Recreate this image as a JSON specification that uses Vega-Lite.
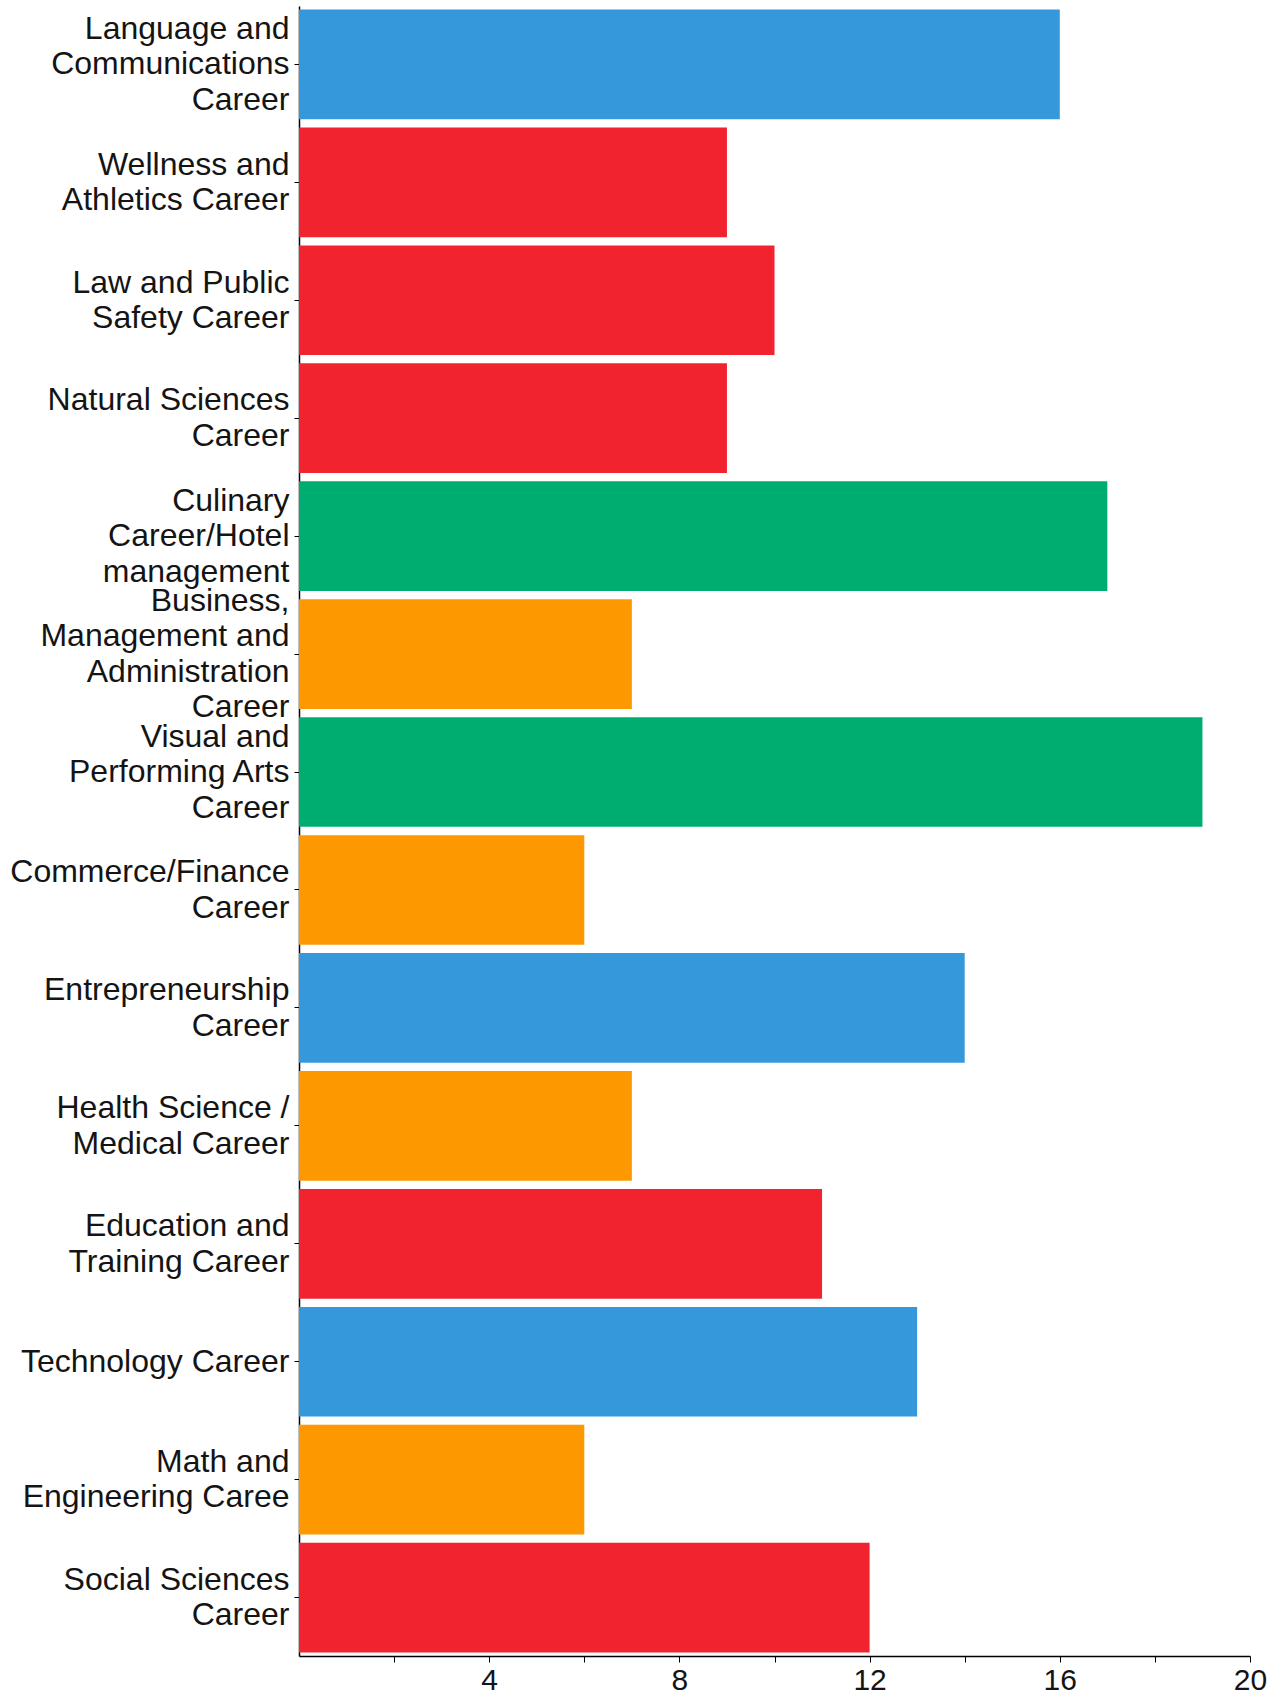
{
  "$schema": "https://vega.github.io/schema/vega-lite/v6.json",
  "width": 951,
  "height": 1650,
  "autosize": {"type": "none"},
  "padding": {"left": 299, "top": 6, "right": 24, "bottom": 38},
  "background": "white",
  "config": {"view": {"stroke": null}, "font": "Liberation Sans"},
  "data": {
    "values": [
      {"career": "Language and|Communications|Career", "count": 16},
      {"career": "Wellness and|Athletics Career", "count": 9},
      {"career": "Law and Public|Safety Career", "count": 10},
      {"career": "Natural Sciences|Career", "count": 9},
      {"career": "Culinary|Career/Hotel|management", "count": 17},
      {"career": "Business,|Management and|Administration|Career", "count": 7},
      {"career": "Visual and|Performing Arts|Career", "count": 19},
      {"career": "Commerce/Finance|Career", "count": 6},
      {"career": "Entrepreneurship|Career", "count": 14},
      {"career": "Health Science /|Medical Career", "count": 7},
      {"career": "Education and|Training Career", "count": 11},
      {"career": "Technology Career", "count": 13},
      {"career": "Math and|Engineering Caree", "count": 6},
      {"career": "Social Sciences|Career", "count": 12}
    ]
  },
  "mark": {"type": "bar"},
  "encoding": {
    "y": {
      "field": "career",
      "type": "nominal",
      "sort": null,
      "scale": {"paddingInner": 0.07, "paddingOuter": 0.03},
      "axis": {
        "title": null,
        "labelExpr": "split(datum.label, '|')",
        "labelFontSize": 32,
        "labelLineHeight": 35.5,
        "labelColor": "#141414",
        "labelLimit": 400,
        "labelPadding": 5,
        "tickSize": 5,
        "tickColor": "#000",
        "domainColor": "#000",
        "domainWidth": 1.5,
        "labelAlign": "right",
        "labelBaseline": "middle",
        "labelOffset": {"expr": "-(length(split(datum.value, '|')) - 1) * 17.75"}
      }
    },
    "x": {
      "field": "count",
      "type": "quantitative",
      "scale": {"domain": [0, 20], "nice": false},
      "axis": {
        "title": null,
        "grid": false,
        "values": [2, 4, 6, 8, 10, 12, 14, 16, 18, 20],
        "labelExpr": "datum.value % 4 == 0 ? datum.label : ''",
        "labelFontSize": 30,
        "labelColor": "#141414",
        "labelPadding": 3,
        "tickSize": 6,
        "tickColor": "#000",
        "domainColor": "#000",
        "domainWidth": 1.5,
        "labelFlush": false
      }
    },
    "color": {
      "field": "count",
      "type": "quantitative",
      "scale": {
        "type": "threshold",
        "domain": [8, 13, 17],
        "range": ["#FD9800", "#F1232F", "#3598DB", "#00AD71"]
      },
      "legend": null
    }
  }
}
